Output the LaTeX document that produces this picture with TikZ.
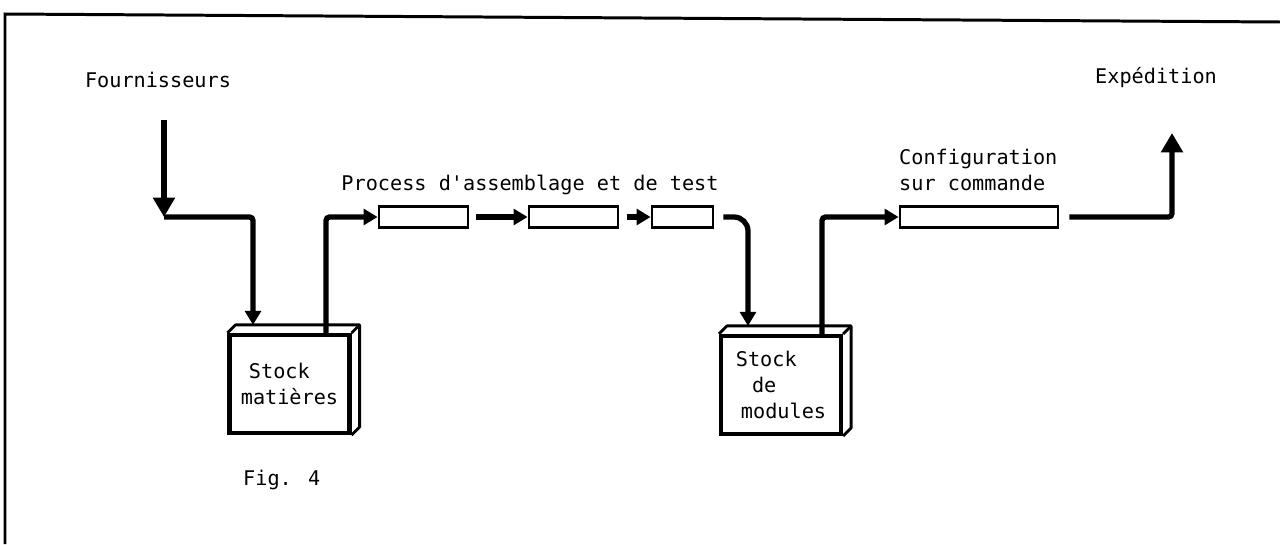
\documentclass[tikz,border=0pt]{standalone}
\usepackage{fontspec}
\setmainfont{DejaVu Sans Mono}
\usetikzlibrary{arrows.meta,positioning}

\begin{document}
\begin{tikzpicture}[
    x=0.02cm, y=-0.02cm,
    font=\fontsize{11.5}{15}\selectfont,
    stock/.style={draw, line width=2.4pt, minimum width=2.4cm, minimum height=1.96cm, align=left, inner sep=0pt},
    poste/.style={draw, line width=1.6pt, minimum height=0.42cm, inner sep=0pt},
    flow/.style={line width=3pt, rounded corners=2pt, -{Triangle[length=8pt,width=9pt]}},
    bigflow/.style={flow, -{Triangle[length=11pt,width=12pt]}},
    frame/.style={line width=1.7pt}
]
\useasboundingbox (0,0) rectangle (1280,544);

% Frame
\draw[frame] (5,544) -- (5,14) -- (1280,22);

% Labels
\node (fourn) at (158,80) {Fournisseurs};
\node (expe) at (1156,78) {Expédition};
\node (process) at (530,185) {Process d\textquotesingle assemblage et de test};
\node[anchor=west, align=left] (configlbl) at (893,170) {Configuration\\sur commande};
\node[anchor=west] (fig) at (237,480) {Fig. 4};

% Stocks
\node[stock] (stockmat) at (289.5,384) {\hspace*{0.4em}Stock\\matières};
\node[stock] (stockmod) at (781,385) {Stock\\\hspace*{0.8em}de\\\hspace*{0.25em}modules};
\foreach \b in {stockmat,stockmod} {
    \draw[line width=1.6pt, line join=round] (\b.north west) -- ++(8,-8) -| ([shift={(8,-8)}]\b.south east) -- (\b.south east);
    \draw[line width=1.6pt] (\b.north east) -- ++(8,-8);
}

% Process posts
\node[poste, minimum width=1.78cm] (box1) at (423.5,217) {};
\node[poste, minimum width=1.78cm] (box2) at (573.5,217) {};
\node[poste, minimum width=1.22cm] (box3) at (682.5,217) {};
\node[poste, minimum width=3.16cm] (config) at (979,217) {};

% Flows
\coordinate (src) at (164,120);
\coordinate (coin) at (164,217);
\coordinate (dest) at (1172,133);

\draw[bigflow] (src) -- (coin);
\draw[flow] (coin) -| ([shift={(-36.5,-8)}]stockmat.north);
\draw[flow] ([shift={(36.5,0)}]stockmat.north) |- (box1.west);
\draw[flow] ([xshift=0.14cm]box1.east) -- (box2.west);
\draw[flow] ([xshift=0.16cm]box2.east) -- (box3.west);
\draw[flow, rounded corners=8pt] ([xshift=0.18cm]box3.east) -| ([shift={(-33,-8)}]stockmod.north);
\draw[flow] ([shift={(41,0)}]stockmod.north) |- (config.west);
\draw[bigflow] ([xshift=0.2cm]config.east) -| (dest);

\end{tikzpicture}
\end{document}
